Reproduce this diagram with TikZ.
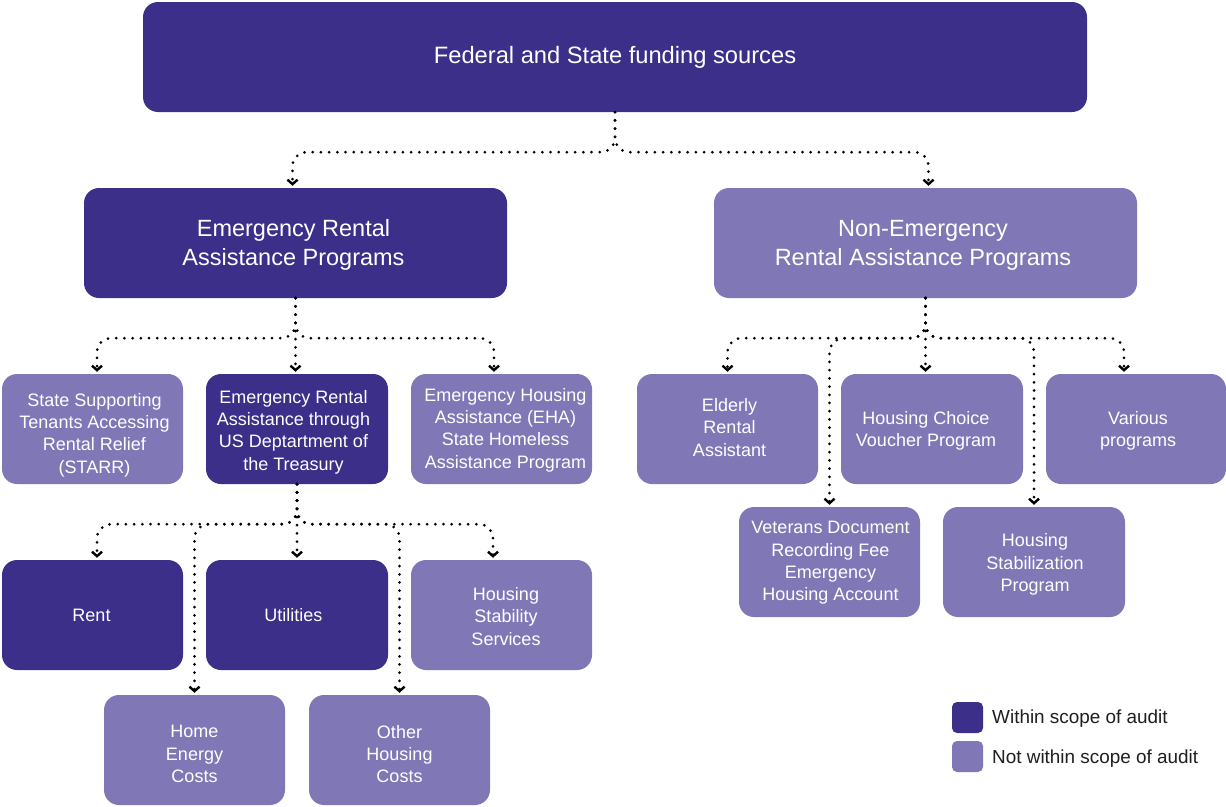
\documentclass[tikz,border=0pt]{standalone}
\usepackage{fontspec}
\setmainfont{Liberation Sans}
\usetikzlibrary{arrows.meta}
\definecolor{inscope}{HTML}{3B2F8A}
\definecolor{outscope}{HTML}{8078B6}
\definecolor{legtext}{HTML}{1E1E1E}
\begin{document}
\begin{tikzpicture}[x=1pt,y=-1pt,
  box/.style={rounded corners=15pt, inner sep=0pt, minimum height=110pt},
  smallbox/.style={box, minimum width=181pt},
  bigbox/.style={box, minimum width=423pt},
  dark/.style={fill=inscope},
  light/.style={fill=outscope},
  boxtext/.style={text=white, align=center, inner sep=0pt, font=\fontsize{18}{22.3}\selectfont},
  bigtext/.style={boxtext, font=\fontsize{23.5}{29}\selectfont},
  conn/.style={draw=black, line width=3pt, line cap=round,
    dash pattern=on 0pt off 8.2pt, rounded corners=14pt, shorten >=2pt,
    -{Straight Barb[length=4.5pt,width=10pt,line width=2.4pt]}},
  legbox/.style={rounded corners=5pt, minimum width=31pt, minimum height=31pt, inner sep=0pt},
  legtxt/.style={anchor=west, text=legtext, inner sep=0pt, font=\fontsize{18.9}{22}\selectfont}
]
\useasboundingbox (0,0) rectangle (1226,806);

% top level
\node[box, dark, minimum width=944pt] (top) at (615,57) {};
\node[bigtext, font=\fontsize{23.7}{29}\selectfont] (top-t) at (top.center) {Federal and State funding sources};

% program groups
\node[bigbox, dark] (erap) at (295.5,243) {};
\node[bigtext] (erap-t) at ([shift={(-2,2)}]erap.center) {Emergency Rental\\Assistance Programs};
\node[bigbox, light] (nonerap) at (925.5,243) {};
\node[bigtext] (nonerap-t) at ([shift={(-2.5,2)}]nonerap.center) {Non-Emergency\\Rental Assistance Programs};

% emergency programs
\node[smallbox, light] (starr) at (92.5,429) {};
\node[boxtext] (starr-t) at ([shift={(2,6)}]starr.center) {State Supporting\\Tenants Accessing\\Rental Relief\\(STARR)};
\node[smallbox, dark, minimum width=182pt] (treas) at (297,429) {};
\node[boxtext] (treas-t) at ([shift={(-3.5,3)}]treas.center) {Emergency Rental\\Assistance through\\US Deptartment of\\the Treasury};
\node[smallbox, light] (eha) at (501.5,429) {};
\node[boxtext] (eha-t) at ([shift={(4,1)}]eha.center) {Emergency Housing\\Assistance (EHA)\\State Homeless\\Assistance Program};

% non-emergency programs
\node[smallbox, light] (elderly) at (727.5,429) {};
\node[boxtext] (elderly-t) at ([shift={(2,-1.5)}]elderly.center) {Elderly\\Rental\\Assistant};
\node[smallbox, light, minimum width=182pt] (hcv) at (932,429) {};
\node[boxtext] (hcv-t) at ([shift={(-6,2)}]hcv.center) {Housing Choice\\Voucher Program};
\node[smallbox, light, minimum width=180pt] (various) at (1136,429) {};
\node[boxtext] (various-t) at ([shift={(2,2)}]various.center) {Various\\programs};
\node[smallbox, light] (veterans) at (829.5,562) {};
\node[boxtext] (veterans-t) at ([shift={(1,1)}]veterans.center) {Veterans Document\\Recording Fee\\Emergency\\Housing Account};
\node[smallbox, light, minimum width=182pt] (hstab) at (1034,562) {};
\node[boxtext] (hstab-t) at ([shift={(1,2.5)}]hstab.center) {Housing\\Stabilization\\Program};

% treasury program cost categories
\node[smallbox, dark] (rent) at (92.5,615) {};
\node[boxtext] (rent-t) at ([shift={(-1,0)}]rent.center) {Rent};
\node[smallbox, dark, minimum width=182pt] (util) at (297,615) {};
\node[boxtext] (util-t) at ([shift={(-3.5,0)}]util.center) {Utilities};
\node[smallbox, light] (hss) at (501.5,615) {};
\node[boxtext] (hss-t) at ([shift={(4.5,1.5)}]hss.center) {Housing\\Stability\\Services};
\node[smallbox, light] (energy) at (194.5,750) {};
\node[boxtext] (energy-t) at ([shift={(0,4)}]energy.center) {Home\\Energy\\Costs};
\node[smallbox, light] (other) at (399.5,750) {};
\node[boxtext] (other-t) at ([shift={(0,4)}]other.center) {Other\\Housing\\Costs};

% connectors from funding sources
\draw[conn] (top.south) -- ++(0,40) -| ([xshift=-3pt]erap.north);
\draw[conn] (top.south) -- ++(0,40) -| ([xshift=3pt]nonerap.north);

% connectors from emergency programs
\draw[conn] (erap.south) -- ++(0,40) -| ([xshift=4.5pt]starr.north);
\draw[conn] (erap.south) -- (erap.south |- treas.north);
\draw[conn] (erap.south) -- ++(0,40) -| ([xshift=-7.5pt]eha.north);

% connectors from non-emergency programs
\draw[conn] (nonerap.south) -- ++(0,40) -| (elderly.north);
\draw[conn] (nonerap.south) -- ++(0,40) -| (veterans.north);
\draw[conn] (nonerap.south) -- (nonerap.south |- hcv.north);
\draw[conn] (nonerap.south) -- ++(0,40) -| (hstab.north);
\draw[conn] (nonerap.south) -- ++(0,40) -| ([xshift=-12pt]various.north);

% connectors from treasury program
\draw[conn] (treas.south) -- ++(0,40) -| ([xshift=4.5pt]rent.north);
\draw[conn] (treas.south) -- ++(0,40) -| (energy.north);
\draw[conn] (treas.south) -- (treas.south |- util.north);
\draw[conn] (treas.south) -- ++(0,40) -| (other.north);
\draw[conn] (treas.south) -- ++(0,40) -| ([xshift=-8.5pt]hss.north);

% legend
\node[legbox, fill=inscope] (legin) at (967.5,717.5) {};
\node[legbox, fill=outscope] (legout) at (967.5,756.5) {};
\node[legtxt] (legintxt) at (992,719) {Within scope of audit};
\node[legtxt] (legouttxt) at (992,758.5) {Not within scope of audit};
\end{tikzpicture}
\end{document}
